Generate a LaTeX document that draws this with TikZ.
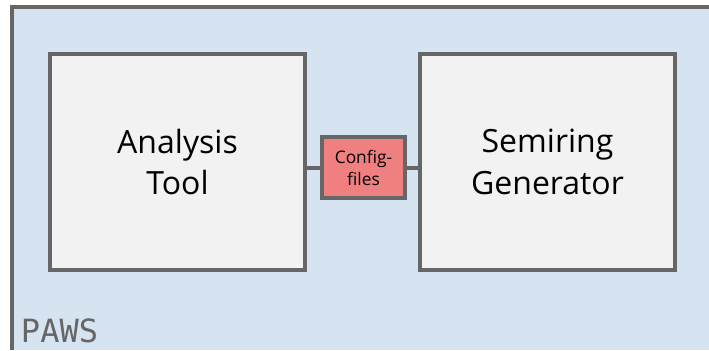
\documentclass[tikz,border=0pt]{standalone}
\usepackage{fontspec}
\setmainfont{Open Sans}
\newfontfamily\pawsfont{DejaVu Sans Mono}
\usepackage{tikz}
\usepackage{xcolor}

\definecolor{pawsblue}{HTML}{D6E3F0}
\definecolor{boxgray}{HTML}{F2F2F2}
\definecolor{linegray}{HTML}{666666}
\definecolor{cfgred}{HTML}{F08080}

\begin{document}
\begin{tikzpicture}[
            x = 0.75pt, y = -0.75pt, % pixel grid
            line width = 3pt,
            toolbox/.style = {shape=rectangle, draw=linegray, fill=boxgray,
                minimum width=191.25pt, minimum height=162pt, align=center,
                font=\fontsize{24}{31}\selectfont},
            cfgbox/.style = {shape=rectangle, draw=linegray, fill=cfgred,
                minimum width=62.25pt, minimum height=45.75pt, align=center,
                inner sep=0pt, font=\fontsize{13}{16.5}\selectfont}
        ]

\useasboundingbox (0,0) rectangle (709,350);
% PAWS frame, cut off at the right and bottom
\begin{scope}
\clip (0,0) rectangle (709,350);
\fill[white] (0,0) rectangle (709,350);
\fill[pawsblue] (12,7) rectangle (709,350);
\draw[linegray] (12,350) |- (709,7);
\end{scope}

\node[anchor=base west, text=linegray, inner sep=0pt,
      font=\pawsfont\fontsize{24}{24}\selectfont] (paws) at (19,342) {PAWS};

\node[toolbox] (analysis) at (177.5,162) {Analysis\\Tool};
\node[toolbox] (semiring) at (547.5,162) {Semiring\\Generator};
\node[cfgbox] (config) at (363.5,167.5) {Config-\\files};

 \path [draw=linegray] (config.west) -- (config.west -| analysis.east);
 \path [draw=linegray] (config.east) -- (config.east -| semiring.west);
\end{tikzpicture}
\end{document}
